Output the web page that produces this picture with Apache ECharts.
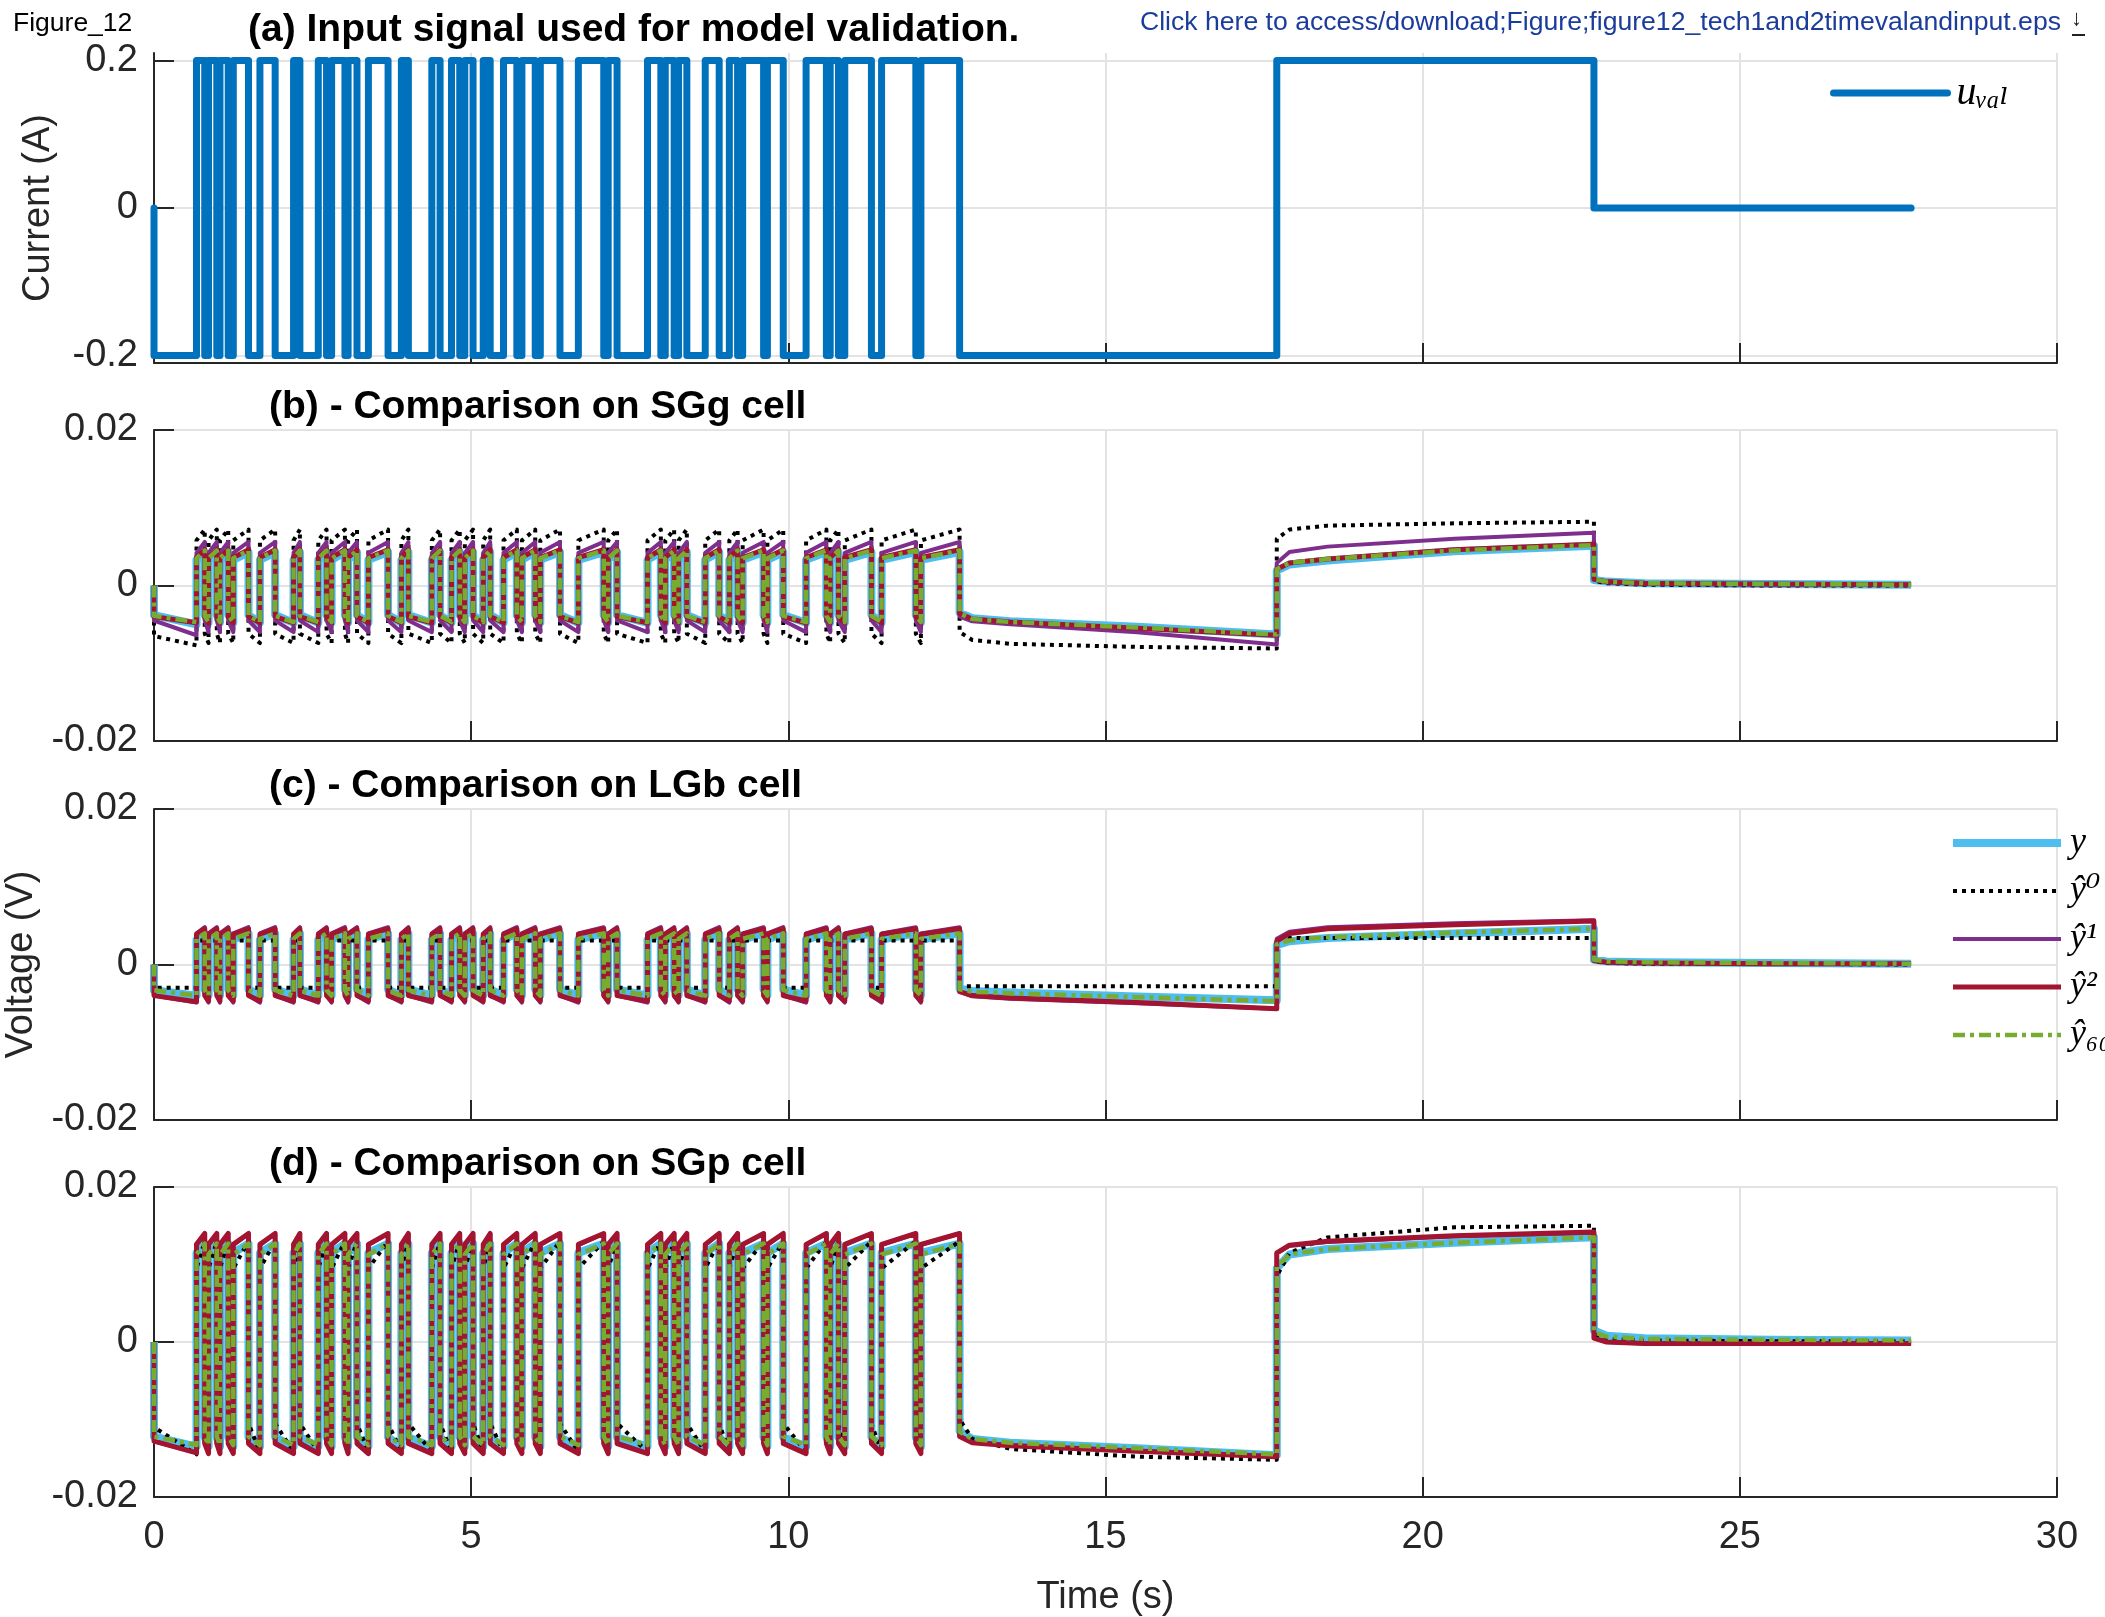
<!DOCTYPE html>
<html>
<head>
<meta charset="utf-8">
<script src="https://cdn.jsdelivr.net/npm/echarts@6/dist/echarts.min.js"></script>
<style>
  html, body { margin: 0; padding: 0; background: #fff; }
  #chart { width: 2105px; height: 1617px; }
</style>
</head>
<body>
<div id="chart"></div>
<script>
// segment boundaries of the validation input (s)
const switchTimes = [0, 0.67, 0.80, 0.86, 0.99, 1.04, 1.17, 1.25, 1.49, 1.67, 1.91, 2.20, 2.30, 2.59,
  2.72, 2.80, 3.01, 3.06, 3.20, 3.38, 3.69, 3.90, 4.01, 4.38, 4.51, 4.69, 4.82, 4.90, 5.03, 5.19,
  5.30, 5.51, 5.72, 5.80, 6.01, 6.09, 6.40, 6.69, 7.09, 7.16, 7.30, 7.78, 7.99, 8.06, 8.20, 8.27,
  8.40, 8.69, 8.91, 9.07, 9.20, 9.28, 9.61, 9.67, 9.92, 10.28, 10.60, 10.66, 10.79, 10.89, 11.31,
  11.47, 12.01, 12.09, 12.70, 17.70, 22.70, 27.70];
// current on each segment (A)
const inputLevels = [-0.2, 0.2, -0.2, 0.2, -0.2, 0.2, -0.2, 0.2, -0.2, 0.2, -0.2, 0.2, -0.2, 0.2,
  -0.2, 0.2, -0.2, 0.2, -0.2, 0.2, -0.2, 0.2, -0.2, 0.2, -0.2, 0.2, -0.2, 0.2, -0.2, 0.2,
  -0.2, 0.2, -0.2, 0.2, -0.2, 0.2, -0.2, 0.2, -0.2, 0.2, -0.2, 0.2, -0.2, 0.2, -0.2, 0.2,
  -0.2, 0.2, -0.2, 0.2, -0.2, 0.2, -0.2, 0.2, -0.2, 0.2, -0.2, 0.2, -0.2, 0.2, -0.2,
  0.2, -0.2, 0.2, -0.2, 0.2, 0];

// pulse part, per series: [hiStart, hiEnd, loStart, loEnd, firstStart, firstEnd] (V)
const sggYPulse   = [0.0033, 0.0043, -0.0038, -0.0048, -0.0038, -0.0050];
const sggY0Pulse  = [0.0058, 0.0072, -0.0062, -0.0074, -0.0065, -0.0077];
const sggY1Pulse  = [0.0042, 0.0056, -0.0045, -0.0060, -0.0045, -0.0064];
const sggY2Pulse  = [0.0036, 0.0046, -0.0040, -0.0048, -0.0040, -0.0048];
const sggY60Pulse = [0.0035, 0.0045, -0.0039, -0.0047, -0.0039, -0.0047];

const lgbYPulse   = [0.0032, 0.0040, -0.0032, -0.0040, -0.0033, -0.0040];
const lgbY0Pulse  = [0.0031, 0.0031, -0.0030, -0.0030, -0.0030, -0.0030];
const lgbY1Pulse  = [0.0040, 0.0048, -0.0040, -0.0049, -0.0040, -0.0049];
const lgbY2Pulse  = [0.0039, 0.0046, -0.0040, -0.0047, -0.0040, -0.0048];
const lgbY60Pulse = [0.0033, 0.0040, -0.0033, -0.0040, -0.0033, -0.0040];

const sgpYPulse   = [0.0115, 0.0127, -0.0123, -0.0135, -0.0122, -0.0135];
const sgpY0Pulse  = [0.0095, 0.0130, -0.0105, -0.0142, -0.0110, -0.0145];
const sgpY1Pulse  = [0.0125, 0.0140, -0.0130, -0.0143, -0.0128, -0.0143];
const sgpY2Pulse  = [0.0126, 0.0140, -0.0131, -0.0144, -0.0128, -0.0143];
const sgpY60Pulse = [0.0113, 0.0127, -0.0122, -0.0133, -0.0122, -0.0133];

// long steps: sample times and values read at them (V)
const longTimes = [12.70, 12.90, 13.50, 15.50, 17.70, 17.70, 17.90, 18.50, 20.50, 22.70, 22.70, 22.90, 23.50, 25.50, 27.70];
const sggYLong   = [-0.0035, -0.0042, -0.0046, -0.0053, -0.0063, 0.0019, 0.0027, 0.0032, 0.0044, 0.0051, 0.0007, 0.0005, 0.0003, 0.0002, 0.0001];
const sggY0Long  = [-0.0060, -0.0070, -0.0075, -0.0079, -0.0081, 0.0060, 0.0072, 0.0077, 0.0080, 0.0082, 0.0006, 0.0003, 0.0001, 0.0000, 0.0000];
const sggY1Long  = [-0.0040, -0.0046, -0.0050, -0.0060, -0.0076, 0.0029, 0.0043, 0.0050, 0.0060, 0.0068, 0.0008, 0.0004, 0.0002, 0.0001, 0.0001];
const sggY2Long  = [-0.0036, -0.0043, -0.0047, -0.0055, -0.0064, 0.0021, 0.0029, 0.0034, 0.0046, 0.0053, 0.0008, 0.0005, 0.0003, 0.0002, 0.0001];
const sggY60Long = [-0.0036, -0.0043, -0.0047, -0.0054, -0.0063, 0.0021, 0.0029, 0.0034, 0.0045, 0.0052, 0.0008, 0.0005, 0.0003, 0.0002, 0.0001];

const lgbYLong   = [-0.0031, -0.0034, -0.0036, -0.0041, -0.0046, 0.0025, 0.0030, 0.0034, 0.0040, 0.0046, 0.0006, 0.0004, 0.0003, 0.0002, 0.0001];
const lgbY0Long  = [-0.0028, -0.0028, -0.0028, -0.0028, -0.0028, 0.0034, 0.0034, 0.0034, 0.0034, 0.0034, 0.0004, 0.0002, 0.0001, 0.0001, 0.0000];
const lgbY1Long  = [-0.0035, -0.0041, -0.0044, -0.0050, -0.0057, 0.0033, 0.0042, 0.0048, 0.0053, 0.0057, 0.0006, 0.0003, 0.0002, 0.0001, 0.0001];
const lgbY2Long  = [-0.0035, -0.0040, -0.0043, -0.0049, -0.0057, 0.0030, 0.0040, 0.0046, 0.0051, 0.0056, 0.0005, 0.0003, 0.0002, 0.0001, 0.0001];
const lgbY60Long = [-0.0032, -0.0035, -0.0037, -0.0042, -0.0047, 0.0026, 0.0031, 0.0035, 0.0041, 0.0046, 0.0006, 0.0004, 0.0003, 0.0002, 0.0001];

const sgpYLong   = [-0.0115, -0.0125, -0.0130, -0.0137, -0.0146, 0.0095, 0.0113, 0.0120, 0.0128, 0.0135, 0.0015, 0.0008, 0.0005, 0.0003, 0.0002];
const sgpY0Long  = [-0.0100, -0.0125, -0.0138, -0.0148, -0.0152, 0.0085, 0.0115, 0.0135, 0.0148, 0.0150, 0.0010, 0.0004, 0.0002, 0.0001, 0.0001];
const sgpY1Long  = [-0.0121, -0.0129, -0.0133, -0.0140, -0.0147, 0.0114, 0.0124, 0.0129, 0.0136, 0.0141, 0.0005, 0.0000, -0.0002, -0.0002, -0.0002];
const sgpY2Long  = [-0.0122, -0.0130, -0.0134, -0.0141, -0.0148, 0.0115, 0.0125, 0.0130, 0.0137, 0.0142, 0.0005, 0.0000, -0.0002, -0.0002, -0.0002];
const sgpY60Long = [-0.0116, -0.0125, -0.0130, -0.0137, -0.0145, 0.0097, 0.0113, 0.0120, 0.0128, 0.0135, 0.0013, 0.0007, 0.0004, 0.0003, 0.0002];

const inputTicks = [-0.2, 0, 0.2];
const names = ['y', 'ŷ⁰', 'ŷ¹', 'ŷ²', 'ŷ₆₀'];

var chart = echarts.init(document.getElementById('chart'));

const longStart = switchTimes.indexOf(12.70);

function inputData() {
  let pts = [[0, 0]];
  for (let k = 0; k < inputLevels.length; k++) {
    pts.push([switchTimes[k], inputLevels[k]], [switchTimes[k + 1], inputLevels[k]]);
  }
  return pts;
}

function responseData(pulse, long) {
  let pts = [[0, 0]];
  for (let k = 0; k < longStart; k++) {
    let pair;
    if (k === 0) pair = [pulse[4], pulse[5]];
    else if (inputLevels[k] > 0) pair = [pulse[0], pulse[1]];
    else pair = [pulse[2], pulse[3]];
    pts.push([switchTimes[k], pair[0]], [switchTimes[k + 1], pair[1]]);
  }
  longTimes.forEach((t, i) => pts.push([t, long[i]]));
  return pts;
}

const axisColor = '#262626';
const gridColor = '#e3e3e3';
const font = "'Liberation Sans', Arial, sans-serif";
const mathFont = "'Liberation Serif', 'DejaVu Serif', serif";

const styles = [
  { color: '#4DBEEE', width: 8, type: 'solid' },
  { color: '#000000', width: 4, type: [4, 5] },
  { color: '#7E2F8E', width: 4, type: 'solid' },
  { color: '#A2142F', width: 5, type: 'solid' },
  { color: '#77AC30', width: 4.5, type: [12, 5, 4, 5] },
];

const grids = [
  { left: 154, right: 48, top: 53, height: 310, outerBoundsMode: 'none' },
  { left: 154, right: 48, top: 430, height: 311, outerBoundsMode: 'none' },
  { left: 154, right: 48, top: 809, height: 311, outerBoundsMode: 'none' },
  { left: 154, right: 48, top: 1187, height: 310, outerBoundsMode: 'none' },
];

const xAxes = grids.map((g, i) => ({
  type: 'value', gridIndex: i, min: 0, max: 30, interval: 5,
  axisLine: { show: true, onZero: false, lineStyle: { color: axisColor, width: 2 } },
  axisTick: { show: true, inside: true, length: 20, lineStyle: { color: axisColor, width: 2 } },
  axisLabel: { show: i === 3, fontSize: 38, color: axisColor, fontFamily: font, margin: 22 },
  splitLine: { show: true, lineStyle: { color: gridColor, width: 2 } },
  name: i === 3 ? 'Time (s)' : '',
  nameLocation: 'middle', nameGap: 82,
  nameTextStyle: { fontSize: 38, color: axisColor, fontFamily: font },
}));

const yAxes = grids.map((g, i) => {
  let ax = {
    type: 'value', gridIndex: i,
    axisLine: { show: true, onZero: false, lineStyle: { color: axisColor, width: 2 } },
    axisTick: { show: true, inside: true, length: 20, lineStyle: { color: axisColor, width: 2 } },
    axisLabel: { fontSize: 38, color: axisColor, fontFamily: font, margin: 16 },
    splitLine: { show: true, lineStyle: { color: gridColor, width: 2 } },
    nameLocation: 'middle', nameRotate: 90,
    nameTextStyle: { fontSize: 38, color: axisColor, fontFamily: font },
  };
  if (i === 0) {
    ax.min = -0.21; ax.max = 0.21;
    ax.axisTick.customValues = inputTicks;
    ax.axisLabel.customValues = inputTicks;
    ax.name = 'Current (A)';
    ax.nameGap = 96;
  } else {
    ax.min = -0.02; ax.max = 0.02; ax.interval = 0.02;
  }
  if (i === 2) { ax.name = 'Voltage (V)'; ax.nameGap = 110; }
  return ax;
});

const panelSets = [
  [[sggYPulse, sggYLong], [sggY0Pulse, sggY0Long], [sggY1Pulse, sggY1Long], [sggY2Pulse, sggY2Long], [sggY60Pulse, sggY60Long]],
  [[lgbYPulse, lgbYLong], [lgbY0Pulse, lgbY0Long], [lgbY1Pulse, lgbY1Long], [lgbY2Pulse, lgbY2Long], [lgbY60Pulse, lgbY60Long]],
  [[sgpYPulse, sgpYLong], [sgpY0Pulse, sgpY0Long], [sgpY1Pulse, sgpY1Long], [sgpY2Pulse, sgpY2Long], [sgpY60Pulse, sgpY60Long]],
];

let series = [
  {
    name: 'uᵥₐₗ', type: 'line', xAxisIndex: 0, yAxisIndex: 0,
    data: inputData(), symbol: 'none',
    lineStyle: { color: '#0072BD', width: 7, join: 'round', cap: 'round' },
    itemStyle: { color: '#0072BD' },
  },
];

panelSets.forEach((set, p) => {
  set.forEach((pair, s) => {
    series.push({
      name: names[s], type: 'line', xAxisIndex: p + 1, yAxisIndex: p + 1,
      data: responseData(pair[0], pair[1]), symbol: 'none',
      lineStyle: { color: styles[s].color, width: styles[s].width, type: styles[s].type, join: 'round' },
      itemStyle: { color: styles[s].color },
    });
  });
});

const titleStyle = { fontSize: 39, fontWeight: 'bold', fill: '#000', fontFamily: font, textVerticalAlign: 'middle' };
const noMark = { color: 'rgba(0,0,0,0)', borderWidth: 0, opacity: 0 };

chart.setOption({
  backgroundColor: '#fff',
  animation: false,
  grid: grids,
  xAxis: xAxes,
  yAxis: yAxes,
  legend: [
    {
      data: [{ name: 'uᵥₐₗ', itemStyle: noMark, lineStyle: { width: 7, color: '#0072BD', opacity: 1 } }],
      left: 1830, top: 73, padding: 0, itemWidth: 114, itemHeight: 20, selectedMode: false,
      textStyle: { fontSize: 40, fontStyle: 'italic', fontFamily: mathFont, color: '#000', padding: [0, 0, 0, 4] },
    },
    {
      data: names.map((n, s) => ({ name: n, itemStyle: noMark, lineStyle: { width: styles[s].width, type: styles[s].type, color: styles[s].color, opacity: 1 } })),
      orient: 'vertical', left: 1949, top: 825, padding: 0, itemWidth: 108, itemHeight: 20, itemGap: 12,
      selectedMode: false,
      textStyle: { fontSize: 36, fontStyle: 'italic', fontFamily: mathFont, color: '#000', padding: [0, 0, 0, 4] },
    },
  ],
  graphic: [
    { type: 'text', left: 13, top: 10, style: { text: 'Figure_12', fontSize: 26.5, fill: '#000', fontFamily: font } },
    { type: 'text', right: 44, top: 9, style: { text: 'Click here to access/download;Figure;figure12_tech1and2timevalandinput.eps', fontSize: 26.6, fill: '#1b3c9b', fontFamily: font } },
    { type: 'text', left: 2071, top: 8, style: { text: '↓', fontSize: 22, fontWeight: 'bold', fill: '#222', fontFamily: font } },
    { type: 'rect', left: 2072, top: 34, shape: { width: 13, height: 2 }, style: { fill: '#222' } },
    { type: 'text', x: 248, y: 30, style: Object.assign({ text: '(a) Input signal used for model validation.' }, titleStyle) },
    { type: 'text', x: 269, y: 407, style: Object.assign({ text: '(b) - Comparison on SGg cell' }, titleStyle) },
    { type: 'text', x: 269, y: 786, style: Object.assign({ text: '(c) - Comparison on LGb cell' }, titleStyle) },
    { type: 'text', x: 269, y: 1164, style: Object.assign({ text: '(d) - Comparison on SGp cell' }, titleStyle) },
  ],
  series: series,
});
</script>
</body>
</html>
